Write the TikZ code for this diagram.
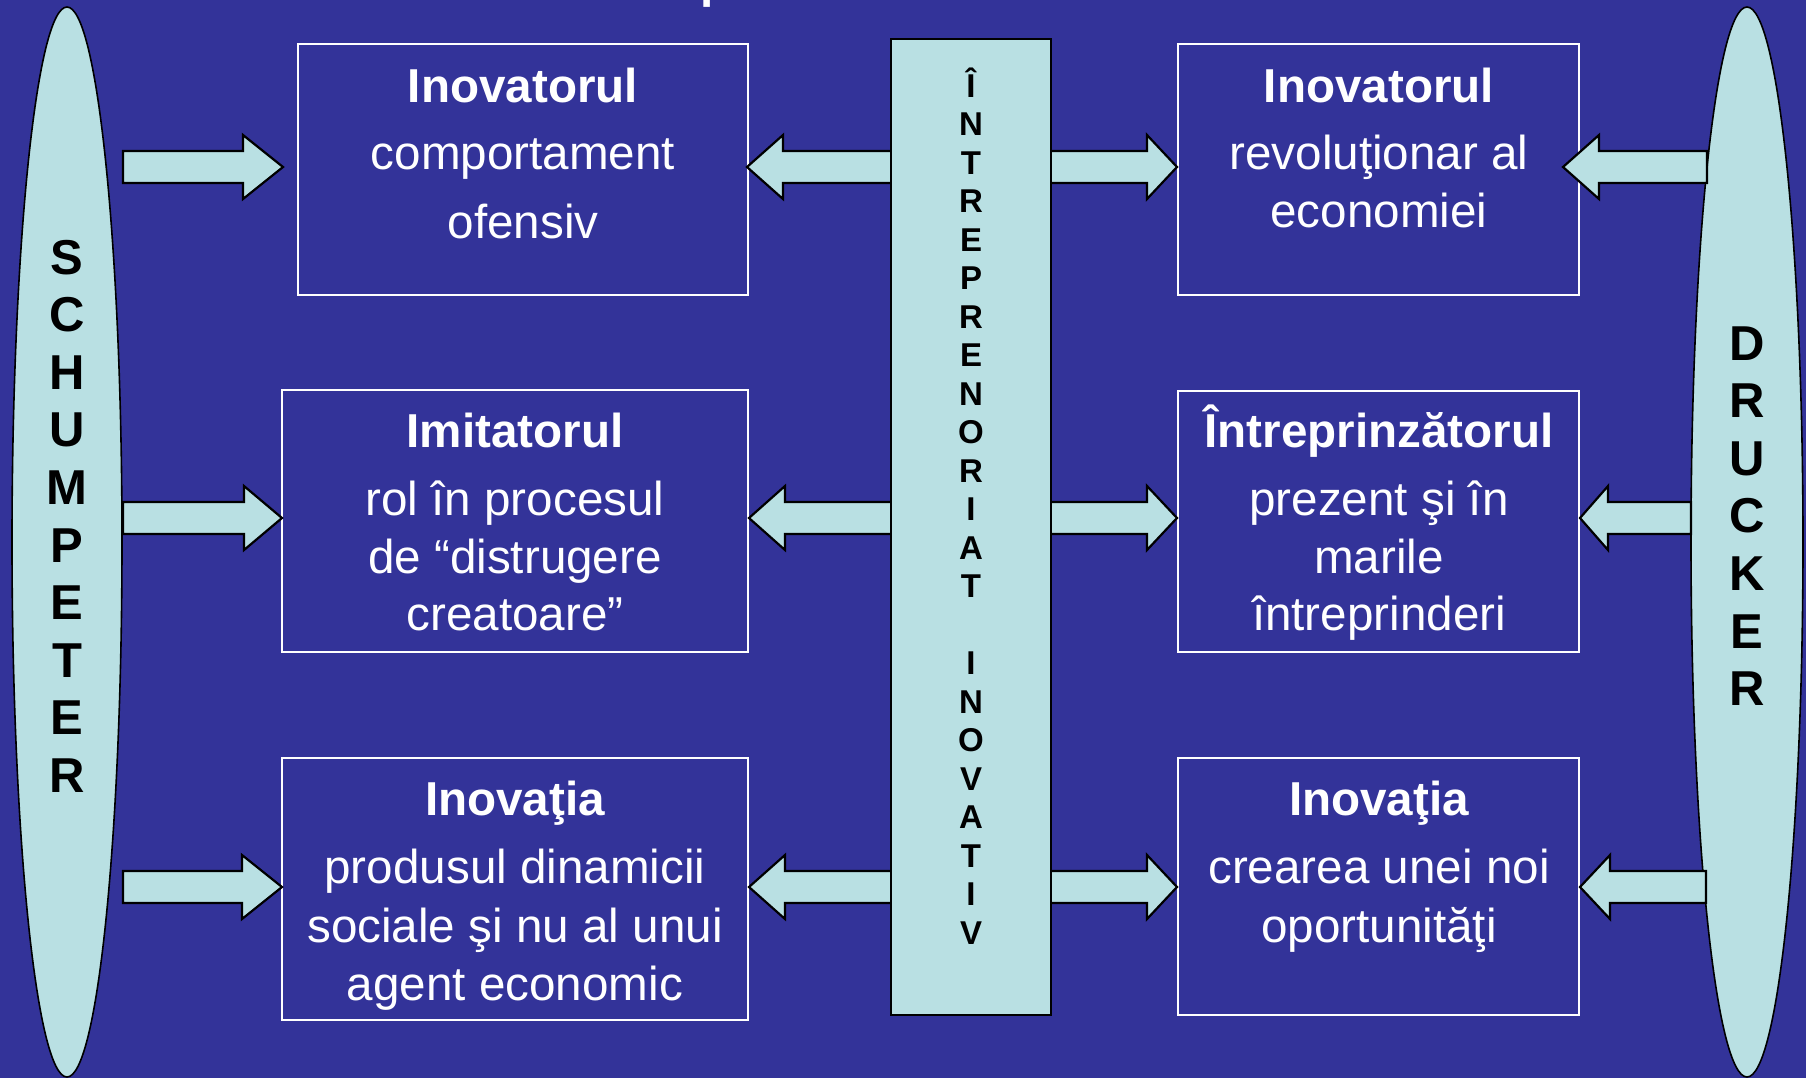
\documentclass[tikz,border=0pt]{standalone}
\usepackage{fontspec}
\setmainfont{Liberation Sans}
\usetikzlibrary{shapes.geometric,fit,calc}
\definecolor{bgblue}{RGB}{51,51,153}
\definecolor{lightc}{RGB}{185,224,227}
\newcommand{\blockarrow}[3]{%
 \draw[blockar] let \p1=(#1), \p2=(#2), \n1={(\x2>\x1) ? (\x2-#3) : (\x2+#3)} in
 ({\x1},{\y1+8pt}) -- ({\n1*1pt},{\y1+8pt}) -- ({\n1*1pt},{\y1+16pt}) -- ({\x2},{\y1})
 -- ({\n1*1pt},{\y1-16pt}) -- ({\n1*1pt},{\y1-8pt}) -- ({\x1},{\y1-8pt}) -- cycle;}
\tikzset{
 box/.style={draw=white, line width=1.2pt, inner sep=0pt},
 cbar/.style={draw=black, fill=lightc, line width=1.3pt, inner sep=0pt},
 ellip/.style={ellipse, draw=black, fill=lightc, line width=0.8pt, inner sep=0pt},
 blockar/.style={draw=black, fill=lightc, line width=1.1pt, line join=miter},
 ttl/.style={text=white, font=\fontsize{23.8}{28}\selectfont\bfseries, anchor=base, inner sep=0pt},
 txt/.style={text=white, font=\fontsize{23.8}{28}\selectfont, anchor=base, inner sep=0pt},
 vlet/.style={font=\fontsize{24.5}{28}\selectfont\bfseries, anchor=base, inner sep=0pt},
 blet/.style={font=\fontsize{16.5}{20}\selectfont\bfseries, anchor=base, inner sep=0pt}
}
\begin{document}
\begin{tikzpicture}[x=0.5pt,y=-0.5pt]
\useasboundingbox (0,0) rectangle (1806,1078);
\fill[bgblue] (0,0) rectangle (1806,1078);
% cut-off title fragment
\node[text=white, font=\fontsize{23.8}{28}\selectfont\bfseries, anchor=base west, inner sep=0pt] (ttlfrag) at (700,-3) {p};
% ellipses
\node[ellip, minimum width=55pt, minimum height=535pt] (schump) at (67,542) {};
\node[ellip, minimum width=56pt, minimum height=535pt] (druck) at (1747,542) {};
\foreach \l [count=\i from 0] in {S,C,H,U,M,P,E,T,E,R}
  \node[vlet] (s\i) at (67,{274+57.6*\i}) {\l};
\foreach \l [count=\i from 0] in {D,R,U,C,K,E,R}
  \node[vlet] (d\i) at (1747,{360+57.6*\i}) {\l};
% boxes
\node[box, fit={(298,44) (748,295)}] (b1) {};
\node[box, fit={(282,390) (748,652)}] (b2) {};
\node[box, fit={(282,758) (748,1020)}] (b3) {};
\node[box, fit={(1178,44) (1579,295)}] (b4) {};
\node[box, fit={(1178,391) (1579,652)}] (b5) {};
\node[box, fit={(1178,758) (1579,1015)}] (b6) {};
% coordinates for arrows
\coordinate (l1s) at (123,167); \coordinate (l1e) at (283,167);
\coordinate (l2s) at (123,518); \coordinate (l2e) at (282,518);
\coordinate (l3s) at (123,887); \coordinate (l3e) at (282,887);
\coordinate (cl1s) at (900,167); \coordinate (cl1e) at (747,167);
\coordinate (cl2s) at (900,518); \coordinate (cl2e) at (749,518);
\coordinate (cl3s) at (900,887); \coordinate (cl3e) at (749,887);
\coordinate (cr1s) at (1042,167); \coordinate (cr1e) at (1177,167);
\coordinate (cr2s) at (1042,518); \coordinate (cr2e) at (1177,518);
\coordinate (cr3s) at (1042,887); \coordinate (cr3e) at (1177,887);
\coordinate (r1s) at (1707,167); \coordinate (r1e) at (1563,167);
\coordinate (r2s) at (1691,518); \coordinate (r2e) at (1580,518);
\coordinate (r3s) at (1706,887); \coordinate (r3e) at (1580,887);
\blockarrow{l1s}{l1e}{20pt}
\blockarrow{l2s}{l2e}{19pt}
\blockarrow{l3s}{l3e}{20pt}
\blockarrow{cl1s}{cl1e}{18pt}
\blockarrow{cl2s}{cl2e}{18pt}
\blockarrow{cl3s}{cl3e}{18pt}
\blockarrow{cr1s}{cr1e}{15pt}
\blockarrow{cr2s}{cr2e}{15pt}
\blockarrow{cr3s}{cr3e}{15pt}
\blockarrow{r1s}{r1e}{18pt}
\blockarrow{r2s}{r2e}{14pt}
\blockarrow{r3s}{r3e}{15pt}
% central bar
\node[cbar, fit={(891,39) (1051,1015)}] (bar) {};
\foreach \l/\k in {Î/0,N/1,T/2,R/3,E/4,P/5,R/6,E/7,N/8,O/9,R/10,I/11,A/12,T/13,I/15,N/16,O/17,V/18,A/19,T/20,I/21,V/22}
  \node[blet] (c\k) at (971,{97+38.5*\k}) {\l};
% texts left
\node[ttl] (t1a) at (523,102) {Inovatorul};
\node[txt] (t1b) at (523,169) {comportament};
\node[txt] (t1c) at (523,238) {ofensiv};
\node[ttl] (t2a) at (515,447) {Imitatorul};
\node[txt] (t2b) at (515,515) {rol în procesul};
\node[txt] (t2c) at (515,573) {de “distrugere};
\node[txt] (t2d) at (515,630) {creatoare”};
\node[ttl] (t3a) at (515,815) {Inovaţia};
\node[txt] (t3b) at (515,883) {produsul dinamicii};
\node[txt] (t3c) at (515,942) {sociale şi nu al unui};
\node[txt] (t3d) at (515,1000) {agent economic};
% texts right
\node[ttl] (t4a) at (1379,102) {Inovatorul};
\node[txt] (t4b) at (1379,169) {revoluţionar al};
\node[txt] (t4c) at (1379,227) {economiei};
\node[ttl] (t5a) at (1379,447) {Întreprinzătorul};
\node[txt] (t5b) at (1379,515) {prezent şi în};
\node[txt] (t5c) at (1379,573) {marile};
\node[txt] (t5d) at (1379,630) {întreprinderi};
\node[ttl] (t6a) at (1379,815) {Inovaţia};
\node[txt] (t6b) at (1379,883) {crearea unei noi};
\node[txt] (t6c) at (1379,942) {oportunităţi};
\end{tikzpicture}
\end{document}
